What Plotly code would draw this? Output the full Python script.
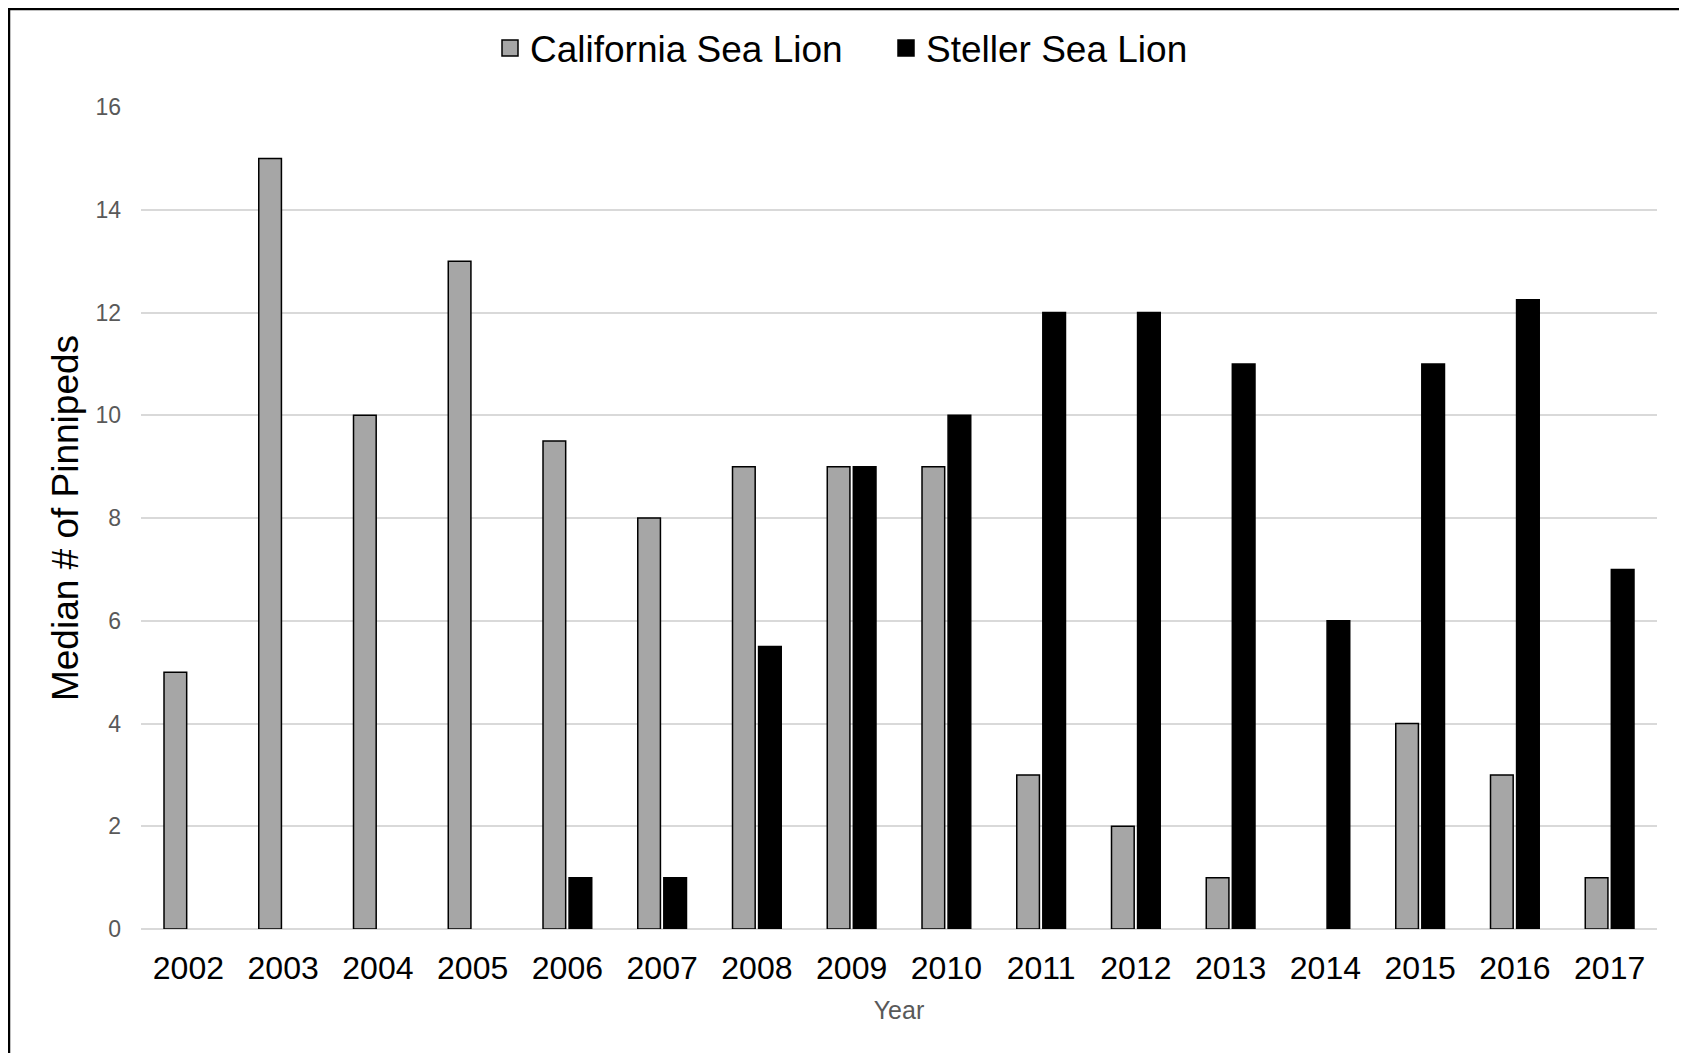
import plotly.graph_objects as go

years = ["2002", "2003", "2004", "2005", "2006", "2007", "2008", "2009",
         "2010", "2011", "2012", "2013", "2014", "2015", "2016", "2017"]
california = [5, 15, 10, 13, 9.5, 8, 9, 9, 9, 3, 2, 1, None, 4, 3, 1]
steller = [None, None, None, None, 1, 1, 5.5, 9, 10, 12, 12, 11, 6, 11, 12.25, 7]
y_ticks = [0, 2, 4, 6, 8, 10, 12, 14, 16]
series_names = ["California Sea Lion", "Steller Sea Lion"]
series_colors = ["#a6a6a6", "#000000"]

# figure is placed by the page with an 8px body margin
W, H = 1679, 1045
L, R, T, B = 133, 30, 99, 124
pw, ph = W - L - R, H - T - B


def px_to_paper_x(p):
    return (p - L) / pw


def px_to_paper_y(p):
    return (H - B - p) / ph


font_family = "Liberation Sans, Arial, sans-serif"

fig = go.Figure()
for name, vals, col in zip(series_names, [california, steller], series_colors):
    fig.add_trace(go.Bar(
        x=years, y=vals, name=name, showlegend=False,
        marker=dict(color=col, line=dict(color="#000000", width=1.5)),
    ))
# legend entries with larger square swatches
for name, col in zip(series_names, series_colors):
    fig.add_trace(go.Scatter(
        x=[None], y=[None], mode="markers", name=name, showlegend=True,
        marker=dict(symbol="square", size=18, color=col, line=dict(color="#000000", width=1.5)),
    ))

fig.update_layout(
    width=W, height=H,
    margin=dict(l=L, r=R, t=T, b=B, autoexpand=False),
    paper_bgcolor="#e9ede9",
    plot_bgcolor="#ffffff",
    barmode="group",
    bargap=0.45,
    bargroupgap=0.13,
    font=dict(family=font_family, color="#000000"),
    legend=dict(
        orientation="h", x=px_to_paper_x(482), xanchor="left", y=px_to_paper_y(40.5), yanchor="middle",
        font=dict(size=37, color="#000000"), bgcolor="rgba(0,0,0,0)",
        itemwidth=30, itemsizing="trace",
        entrywidth=351, entrywidthmode="pixels",
    ),
    xaxis=dict(
        title=dict(text="Year", font=dict(size=25, color="#595959"), standoff=16),
        tickfont=dict(size=32, color="#000000"),
        showgrid=False, showline=False, ticks="", ticklabelstandoff=17,
    ),
    yaxis=dict(
        title=dict(text="Median # of Pinnipeds", font=dict(size=37, color="#000000"), standoff=5),
        range=[0, 16], tickvals=y_ticks, ticktext=[str(v) for v in y_ticks],
        tickfont=dict(size=23, color="#595959"),
        showgrid=True, gridcolor="#d9d9d9", gridwidth=1.5,
        zeroline=True, zerolinecolor="#d9d9d9", zerolinewidth=2,
        showline=False, ticks="", ticklabelstandoff=19,
    ),
    shapes=[dict(
        type="rect", xref="paper", yref="paper", layer="below",
        x0=px_to_paper_x(1), x1=px_to_paper_x(1677),
        y0=px_to_paper_y(1070), y1=px_to_paper_y(1),
        line=dict(color="#000000", width=2.5), fillcolor="#ffffff",
    )],
)

fig.write_html("out.html")
